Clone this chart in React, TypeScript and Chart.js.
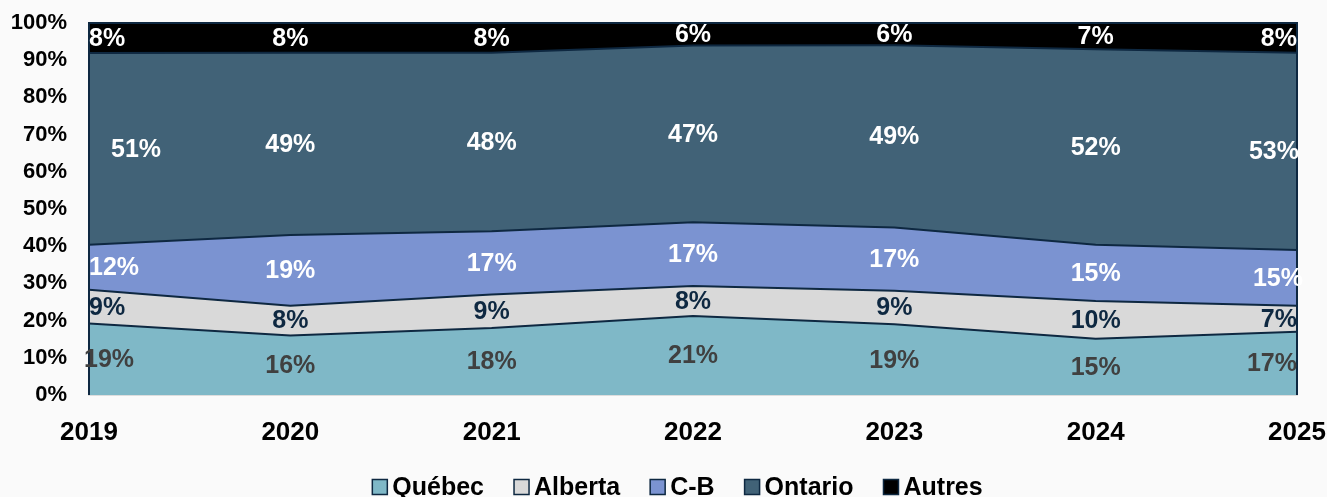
import React, { useEffect, useRef } from "react";
import { Chart, registerables } from "chart.js";

Chart.register(...registerables);

const years = ["2019", "2020", "2021", "2022", "2023", "2024", "2025"];
const quebec = [19, 16, 18, 21, 19, 15, 17];
const alberta = [9, 8, 9, 8, 9, 10, 7];
const cb = [12, 19, 17, 17, 17, 15, 15];
const ontario = [51, 49, 48, 47, 49, 52, 53];
const autres = [8, 8, 8, 6, 6, 7, 8];
const yTicks = [0, 10, 20, 30, 40, 50, 60, 70, 80, 90, 100];

const seriesNames = ["Québec", "Alberta", "C-B", "Ontario", "Autres"];
const seriesValues = [quebec, alberta, cb, ontario, autres];
const fillColors = ["#7FB8C7", "#D9D9D9", "#7B93D1", "#416277", "#000000"];
const labelColors = ["#404040", "#0E2841", "#FFFFFF", "#FFFFFF", "#FFFFFF"];
const edgeColor = "#0E2841";
const FONT = "'Liberation Sans', Arial, sans-serif";

const totals = years.map((_, i) => seriesValues.reduce((s, arr) => s + arr[i], 0));

const labelPlugin = {
  id: "bandLabels",
  afterDatasetsDraw(chart: any) {
    const { ctx, chartArea, scales } = chart;
    const y = scales.y;
    const x = scales.x;
    ctx.save();
    ctx.strokeStyle = edgeColor;
    ctx.lineWidth = 2;
    ctx.beginPath();
    ctx.moveTo(chartArea.left, chartArea.bottom);
    ctx.lineTo(chartArea.left, chartArea.top);
    ctx.lineTo(chartArea.right, chartArea.top);
    ctx.lineTo(chartArea.right, chartArea.bottom);
    ctx.stroke();

    ctx.font = `bold 25px ${FONT}`;
    ctx.textBaseline = "middle";
    ctx.textAlign = "center";
    years.forEach((_, i) => {
      let cum = 0;
      seriesValues.forEach((arr, s) => {
        const pct = (arr[i] / totals[i]) * 100;
        const mid = cum + pct / 2;
        cum += pct;
        const text = `${arr[i]}%`;
        const w = ctx.measureText(text).width;
        let px = x.getPixelForValue(i);
        if (i === 0) px = chartArea.left + w / 2 + (s === 3 ? 22 : s === 0 ? -5 : 0);
        if (i === years.length - 1) px = chartArea.right - w / 2 + (s === 2 ? 6 : s === 3 ? 2 : 0);
        ctx.fillStyle = labelColors[s];
        ctx.fillText(text, px, y.getPixelForValue(mid) + 1);
      });
    });

    // legend
    ctx.font = `bold 25px ${FONT}`;
    ctx.textAlign = "left";
    const box = 15;
    const boxGap = 5;
    const itemGap = 30;
    const widths = seriesNames.map((n) => box + boxGap + ctx.measureText(n).width);
    const total = widths.reduce((a, b) => a + b, 0) + itemGap * (seriesNames.length - 1);
    let lx = chart.width / 2 - total / 2 + 14;
    const ly = 487;
    seriesNames.forEach((n, s) => {
      ctx.fillStyle = fillColors[s];
      ctx.fillRect(lx, ly - box / 2, box, box);
      ctx.strokeStyle = edgeColor;
      ctx.lineWidth = 1.5;
      ctx.strokeRect(lx, ly - box / 2, box, box);
      ctx.fillStyle = "#000000";
      ctx.fillText(n, lx + box + boxGap, ly + 1);
      lx += widths[s] + itemGap;
    });
    ctx.restore();
  },
};

export default function App() {
  const ref = useRef<HTMLCanvasElement>(null);
  useEffect(() => {
    if (!ref.current) return;
    const datasets = seriesNames.map((name, s) => ({
      label: name,
      data: seriesValues[s].map((v, i) => (v / totals[i]) * 100),
      backgroundColor: fillColors[s],
      borderColor: edgeColor,
      borderWidth: 2,
      pointRadius: 0,
      tension: 0,
      fill: s === 0 ? "origin" : "-1",
    }));
    const chart = new Chart(ref.current, {
      type: "line",
      data: { labels: years, datasets },
      plugins: [labelPlugin],
      options: {
        animation: false,
        responsive: false,
        maintainAspectRatio: false,
        layout: { padding: { top: 23, right: 30, left: 0, bottom: 42 } },
        plugins: {
          tooltip: { enabled: false },
          legend: { display: false },
        },
        scales: {
          x: {
            offset: false,
            grid: { display: false, drawTicks: false },
            border: { display: true, color: "#BFBFBF", width: 1.5 },
            ticks: {
              font: { family: FONT, size: 26, weight: "bold" },
              color: "#000000",
              padding: 22,
              maxRotation: 0,
              autoSkip: false,
            },
            afterFit: (axis: any) => {
              axis.height = 60;
              axis.paddingLeft = 0;
              axis.paddingRight = 0;
            },
          },
          y: {
            stacked: true,
            min: 0,
            max: 100,
            afterBuildTicks: (axis: any) => {
              axis.ticks = yTicks.map((v) => ({ value: v }));
            },
            grid: { display: false, drawTicks: false },
            border: { display: false },
            ticks: {
              font: { family: FONT, size: 22, weight: "bold" },
              color: "#000000",
              padding: 22,
              callback: (v: any) => `${v}%`,
            },
            afterFit: (axis: any) => {
              axis.width = 89;
              axis.paddingTop = 0;
              axis.paddingBottom = 0;
            },
          },
        },
      },
    });
    return () => chart.destroy();
  }, []);
  return (
    <div
      style={{
        position: "absolute",
        left: 0,
        top: 0,
        width: 1327,
        height: 497,
        background: "#FAFAFA",
      }}
    >
      <canvas ref={ref} width={1327} height={497} style={{ width: 1327, height: 497 }} />
    </div>
  );
}
